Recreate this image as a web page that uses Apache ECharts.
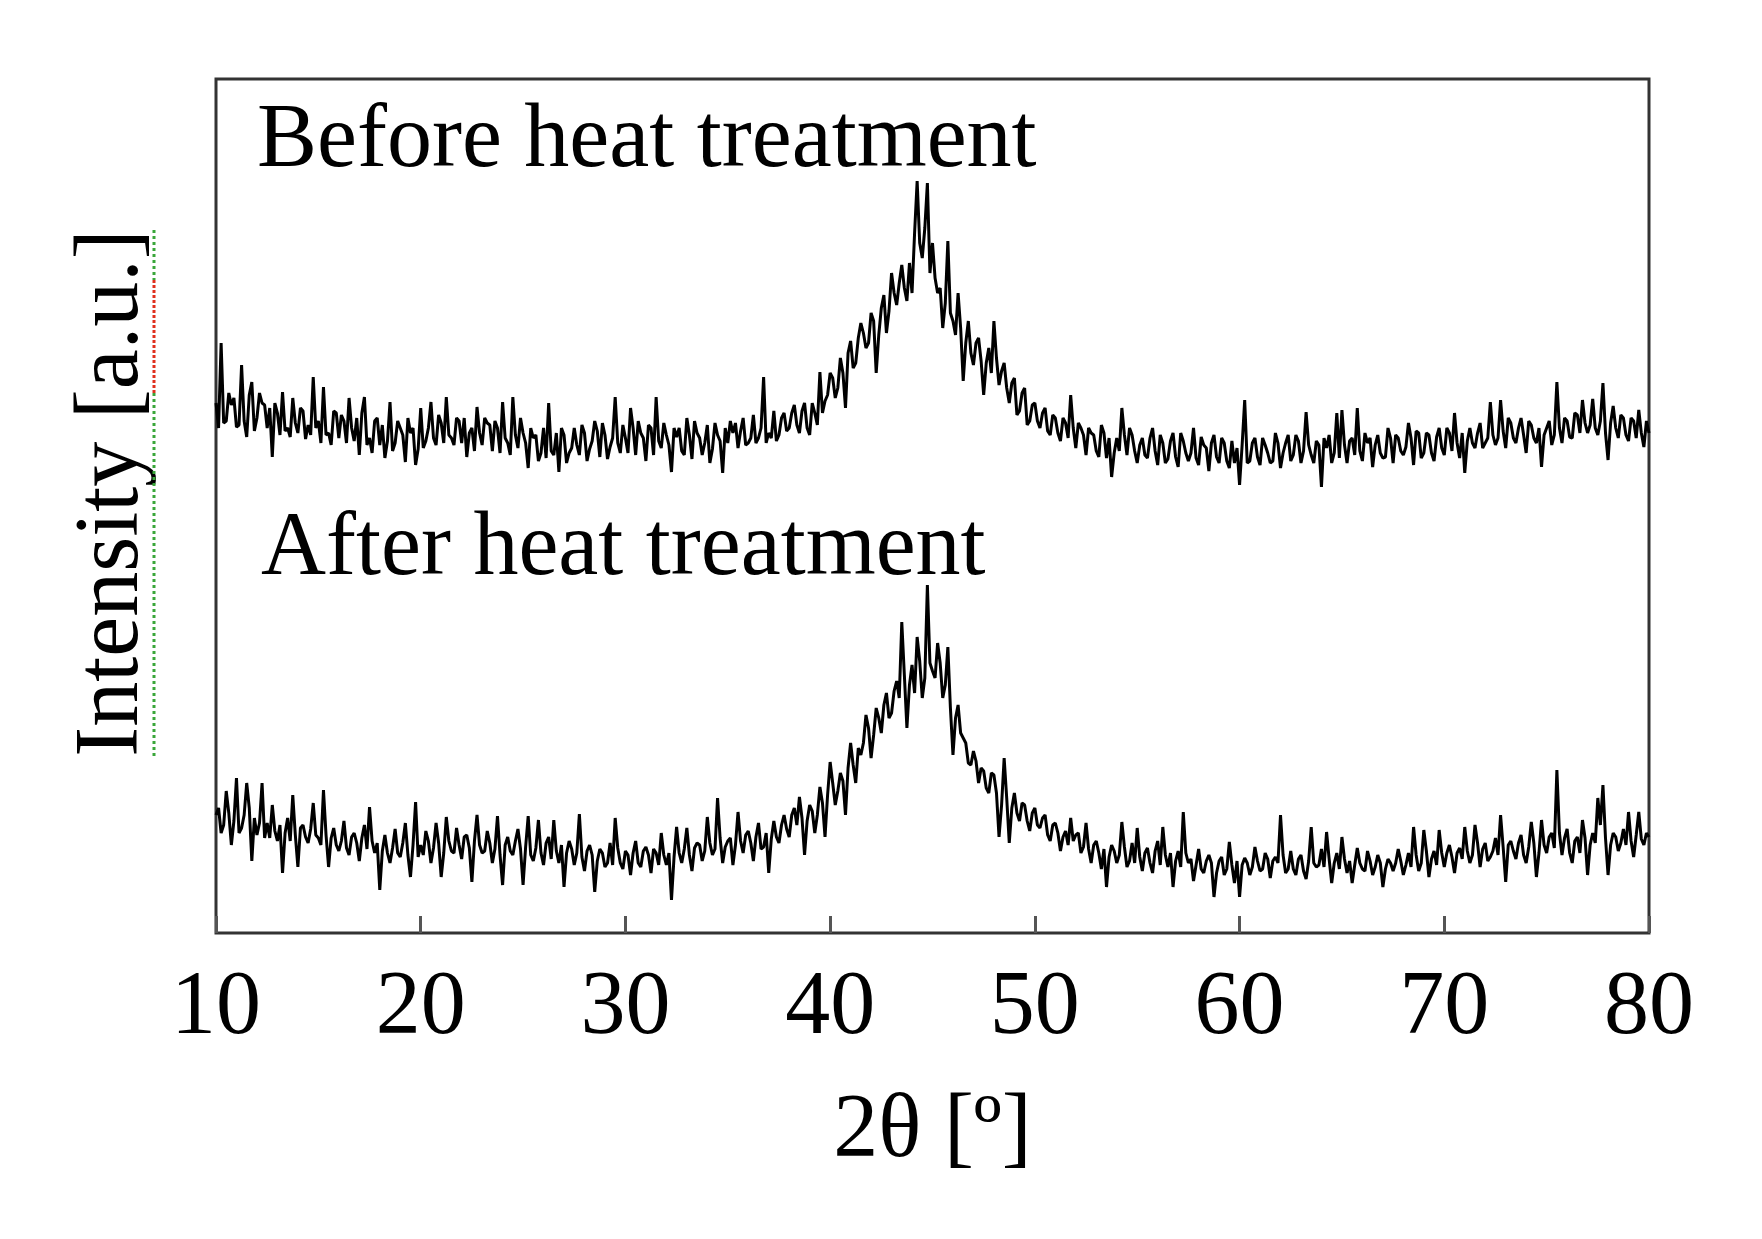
<!DOCTYPE html>
<html>
<head>
<meta charset="utf-8">
<script src="https://cdn.jsdelivr.net/npm/echarts@6/dist/echarts.min.js"></script>
<style>
html,body{margin:0;padding:0;background:#fff;}
#c{width:1762px;height:1239px;}
</style>
</head>
<body>
<div id="c"></div>
<script>
// 2θ range of the scans (degrees); samples are evenly spaced over it
const angleMin = 10;
const angleMax = 80;
const xTickStep = 10;

const labelBefore = 'Before heat treatment';
const labelAfter = 'After heat treatment';
const xAxisTitle = '2θ [º]';
const yAxisTitle = 'Intensity [a.u.]';

// Intensity (a.u.), 0.125° steps from 10° to 80°
const beforeHeat = [
  530,505,590,510,512,540,528,535,506,508,568,512,496,538,551,502,515,540,530,528,
  505,525,476,530,520,498,541,502,505,496,535,510,500,525,522,494,508,498,556,505,
  512,490,546,498,500,488,522,520,495,518,512,490,535,505,492,515,478,520,536,488,
  495,480,512,515,488,508,475,492,531,482,490,512,505,498,471,515,500,505,468,484,
  525,485,492,505,531,495,488,518,510,490,536,498,495,488,515,512,490,515,476,500,
  505,482,526,500,488,515,510,508,482,512,505,480,531,495,490,478,536,498,485,515,
  500,490,465,505,495,498,472,480,505,475,530,482,478,500,461,505,498,470,480,485,
  505,488,478,508,500,472,484,492,512,502,476,510,498,474,486,495,536,490,480,508,
  495,480,525,505,478,512,500,495,472,508,505,478,536,492,485,510,498,488,461,505,
  496,505,482,478,515,498,474,512,500,495,478,490,508,470,484,510,498,492,460,505,
  490,512,500,510,485,502,515,488,490,495,518,490,495,505,556,490,500,495,522,492,
  498,515,520,502,505,520,528,508,500,522,530,505,498,530,520,508,561,520,532,538,
  560,555,535,545,575,560,525,580,592,565,570,595,610,600,585,590,620,612,560,598,
  625,638,600,622,660,640,628,650,668,645,632,670,640,700,752,690,675,705,750,660,
  690,655,640,645,605,630,692,620,612,598,640,605,552,590,612,580,568,590,595,572,
  538,570,585,560,612,575,548,562,570,545,530,550,555,518,522,540,545,508,512,528,
  530,512,505,520,525,502,498,518,515,500,492,515,510,495,538,505,485,510,505,498,
  478,505,500,498,482,476,508,500,475,495,456,480,495,482,525,498,478,505,498,482,
  470,488,495,478,475,495,505,482,468,498,490,470,474,492,500,476,466,500,492,480,
  472,480,505,475,468,496,488,485,462,490,498,476,470,495,490,472,465,492,470,485,
  448,488,533,470,472,490,495,476,468,495,488,480,470,472,500,490,465,480,490,498,
  472,478,498,492,470,482,521,488,478,470,492,488,446,495,485,498,470,480,520,475,
  523,488,470,492,495,478,525,482,472,500,490,495,466,488,498,480,475,476,505,495,
  470,498,495,482,478,486,510,495,468,502,500,475,480,500,498,480,472,496,505,485,
  478,505,500,482,520,490,475,500,460,492,505,490,485,500,510,485,490,495,531,498,
  488,495,533,502,485,515,510,495,490,505,515,498,480,512,508,495,490,505,466,498,
  505,512,488,498,551,505,490,515,512,496,495,520,518,500,533,510,500,508,534,505,
  498,512,550,500,473,510,527,505,495,518,515,498,492,515,512,495,523,500,486,512,500
];

const afterHeat = [
  118,125,100,108,142,120,88,112,155,100,105,118,150,125,72,115,98,110,150,95,
  110,95,128,102,92,108,60,100,115,92,138,98,66,105,108,96,90,104,130,98,
  95,88,143,98,66,95,105,88,82,92,112,85,78,96,100,90,72,95,108,84,
  126,92,80,90,43,82,98,80,70,85,104,80,76,90,110,78,56,88,131,76,
  88,78,102,92,70,85,110,90,56,80,116,92,82,80,105,88,74,96,98,85,
  51,92,118,88,80,82,102,90,70,84,117,78,48,88,96,82,78,92,104,84,
  48,86,117,78,72,85,113,80,68,90,96,74,113,82,70,88,46,80,92,84,
  68,80,119,76,62,82,88,78,41,72,84,80,66,70,90,68,115,85,70,64,
  82,78,58,80,92,70,66,82,86,78,60,84,80,68,100,78,68,80,33,76,
  106,80,70,84,105,78,62,85,90,88,72,82,116,90,78,84,135,95,70,86,
  92,95,68,88,121,92,80,98,102,90,72,96,110,84,86,100,60,94,112,96,
  90,108,118,104,96,118,125,108,136,115,78,112,128,122,100,118,146,130,96,138,
  171,150,128,142,160,152,118,165,190,168,150,185,178,190,218,205,175,198,225,215,
  200,228,240,215,220,242,252,235,311,258,205,248,268,240,296,272,235,255,348,270,
  262,255,290,270,235,248,286,225,178,215,228,200,195,190,170,168,182,172,150,165,
  162,145,140,160,158,140,96,128,175,135,90,125,140,120,112,130,128,112,102,120,
  125,108,105,115,118,98,92,108,110,100,82,96,102,88,115,92,98,100,80,86,
  110,84,70,88,92,80,64,84,46,76,88,82,70,78,111,86,66,72,90,70,
  105,76,62,80,85,70,60,82,92,68,106,78,66,80,46,72,82,66,121,80,
  70,74,52,68,84,64,60,72,78,70,36,60,72,76,58,64,91,68,50,72,
  36,68,75,70,58,66,86,72,62,64,80,74,55,72,76,70,118,78,60,64,
  82,64,58,74,78,62,54,72,106,70,66,68,84,66,101,74,50,70,80,64,
  96,74,60,72,50,68,85,70,64,62,82,72,58,66,78,70,46,64,74,70,
  62,70,84,72,58,68,80,66,106,78,62,70,103,82,56,74,82,68,103,80,
  66,80,88,76,60,80,85,74,106,82,70,78,108,90,66,84,90,72,76,82,
  95,78,118,86,51,88,92,82,74,90,98,78,70,86,111,90,56,80,113,88,
  80,96,100,85,163,100,78,95,104,80,70,92,96,80,113,95,58,88,100,90,
  135,108,148,95,58,88,100,96,82,90,104,88,121,92,76,98,121,94,88,100,96
];

const yMin = 0;
const yMax = 854;

function toPairs(vals) {
  const step = (angleMax - angleMin) / (vals.length - 1);
  return vals.map((v, i) => [angleMin + i * step, v]);
}

const serif = "'Liberation Serif', 'Times New Roman', serif";

const chart = echarts.init(document.getElementById('c'), null, { renderer: 'canvas' });
chart.setOption({
  animation: false,
  backgroundColor: '#ffffff',
  grid: {
    left: 216, top: 79, right: 113, bottom: 306,
    show: true, borderColor: '#333333', borderWidth: 3,
    backgroundColor: 'transparent'
  },
  xAxis: {
    type: 'value', min: angleMin, max: angleMax, interval: xTickStep,
    name: xAxisTitle, nameLocation: 'middle', nameGap: 154,
    nameTextStyle: { fontFamily: serif, fontSize: 90, color: '#000' },
    axisLine: { show: false },
    axisTick: { show: true, inside: true, length: 17, lineStyle: { color: '#555', width: 3 } },
    axisLabel: { fontFamily: serif, fontSize: 90, color: '#000', margin: 31 },
    splitLine: { show: false }
  },
  yAxis: {
    type: 'value', min: yMin, max: yMax,
    name: yAxisTitle, nameLocation: 'middle', nameGap: 58,
    nameTextStyle: { fontFamily: serif, fontSize: 90, color: '#000', padding: [0, 0, 0, 26] },
    axisLine: { show: false }, axisTick: { show: false },
    axisLabel: { show: false }, splitLine: { show: false }
  },
  series: [
    {
      name: labelBefore, type: 'line', data: toPairs(beforeHeat),
      showSymbol: false, symbol: 'none', smooth: false,
      lineStyle: { color: '#000', width: 3 }
    },
    {
      name: labelAfter, type: 'line', data: toPairs(afterHeat),
      showSymbol: false, symbol: 'none', smooth: false,
      lineStyle: { color: '#000', width: 3 }
    }
  ],
  graphic: [
    {
      type: 'text', left: 257, top: 97, z: 100,
      style: { text: labelBefore, font: "90px " + serif, fill: '#000' }
    },
    {
      type: 'text', left: 261, top: 505, z: 100,
      style: { text: labelAfter, font: "90px " + serif, fill: '#000' }
    },
    {
      type: 'line', z: 90,
      shape: { x1: 154, y1: 230, x2: 154, y2: 280 },
      style: { stroke: '#3aa63a', lineWidth: 3, lineDash: [3, 3] }
    },
    {
      type: 'line', z: 90,
      shape: { x1: 154, y1: 280, x2: 154, y2: 393 },
      style: { stroke: '#e0301e', lineWidth: 3, lineDash: [3, 2] }
    },
    {
      type: 'line', z: 90,
      shape: { x1: 154, y1: 393, x2: 154, y2: 759 },
      style: { stroke: '#3aa63a', lineWidth: 3, lineDash: [3, 3] }
    }
  ]
});
</script>
</body>
</html>
